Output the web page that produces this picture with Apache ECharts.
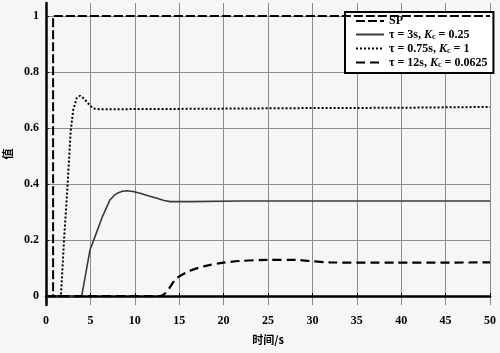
<!DOCTYPE html>
<html>
<head>
<meta charset="utf-8">
<script src="https://cdn.jsdelivr.net/npm/echarts@6/dist/echarts.min.js"></script>
<style>
    html, body { margin: 0; padding: 0; background: #f6f6f6; }
    #main { width: 500px; height: 353px; }
</style>
</head>
<body>
<div id="main"></div>
<script>
    // 数据
    var yTicks = [0, 0.2, 0.4, 0.6, 0.8, 1];
    var spData = [[0, 0], [0.8, 0], [0.8, 1], [50, 1]];
    var tau075Data = [[0, 0], [1.6, 0], [1.7, 0.01], [2.03, 0.2], [2.4, 0.38], [2.78, 0.59], [3.07, 0.664],
        [3.45, 0.706], [3.83, 0.715], [4.15, 0.708], [4.58, 0.694], [5, 0.679], [5.33, 0.67], [5.9, 0.667], [8, 0.667],
        [15, 0.668], [30, 0.671], [40, 0.672], [50, 0.675]];
    var tau3Data = [[0, 0], [4.02, 0], [4.95, 0.164], [5.52, 0.212], [6.27, 0.277], [7.2, 0.343],
        [7.7, 0.36], [8.15, 0.369], [8.6, 0.374], [9.08, 0.376], [9.8, 0.373], [10.6, 0.367],
        [11.5, 0.358], [12.5, 0.349], [13.3, 0.341], [14, 0.337], [16.2, 0.337],
        [21.8, 0.339], [50, 0.339]];
    var tau12Data = [[0, 0], [12.84, 0], [14.7, 0.063], [16.2, 0.09], [17.9, 0.107], [20, 0.119],
        [21.8, 0.125], [24.9, 0.129], [28.2, 0.129], [29.7, 0.125], [32, 0.12], [39.5, 0.119], [50, 0.12]];

    var legendRich = {
        '0': '{n|SP}',
        '1': '{n|\u03c4 = 3s, }{k|K}{s|c}{n| = 0.25}',
        '2': '{n|\u03c4 = 0.75s, }{k|K}{s|c}{n| = 1}',
        '3': '{n|\u03c4 = 12s, }{k|K}{s|c}{n| = 0.0625}'
    };
    var seriesNames = ['SP', '\u03c4=3s, Kc=0.25', '\u03c4=0.75s, Kc=1', '\u03c4=12s, Kc=0.0625'];

    var chart = echarts.init(document.getElementById('main'));
    var font = '"Liberation Serif", "Times New Roman", serif';
    var option = {
        backgroundColor: '#f6f6f6',
        animation: false,
        textStyle: {fontFamily: font},
        grid: {
            left: 46,
            right: 10,
            top: 3,
            bottom: 48,
            outerBoundsMode: 'none',
            containLabel: false
        },
        legend: {
            orient: 'vertical',
            left: 345,
            top: 12,
            width: 140,
            padding: [3, 6, 4, 10],
            itemGap: 1.5,
            itemWidth: 28,
            itemHeight: 12,
            backgroundColor: '#fff',
            borderColor: '#000',
            borderWidth: 2,
            borderRadius: 0,
            itemStyle: {color: 'transparent', borderColor: 'transparent', borderWidth: 0},
            data: seriesNames,
            formatter: function (name) {
                return legendRich[seriesNames.indexOf(name)];
            },
            textStyle: {
                rich: {
                    n: {fontFamily: font, fontWeight: 'bold', fontSize: 12, color: '#000'},
                    k: {fontFamily: font, fontWeight: 'bold', fontStyle: 'italic', fontSize: 12, color: '#000'},
                    s: {fontFamily: font, fontWeight: 'bold', fontSize: 8, color: '#000', verticalAlign: 'bottom', padding: [5, 0, 0, 0]}
                }
            }
        },
        xAxis: {
            type: 'value',
            min: 0,
            max: 50,
            interval: 5,
            name: '时间/s',
            nameLocation: 'middle',
            nameGap: 29,
            nameTextStyle: {fontFamily: '"Noto Sans CJK SC"', fontWeight: 'bold', fontSize: 11, color: '#000'},
            axisLine: {lineStyle: {color: '#000', width: 2.5}},
            axisTick: {inside: true, length: 3, lineStyle: {color: '#000'}},
            axisLabel: {fontFamily: font, fontWeight: 'bold', fontSize: 12, color: '#000', margin: 10},
            splitLine: {show: true, lineStyle: {color: '#8c8c8c', width: 1}}
        },
        yAxis: {
            type: 'value',
            min: -0.032,
            max: 1.046,
            name: '值',
            nameLocation: 'middle',
            nameRotate: 90,
            nameGap: 28,
            nameTextStyle: {fontFamily: '"Noto Sans CJK SC"', fontWeight: 'bold', fontSize: 11, color: '#000'},
            axisLine: {lineStyle: {color: '#000', width: 2.5}},
            axisTick: {inside: true, length: 3, customValues: yTicks, lineStyle: {color: '#000'}},
            axisLabel: {
                customValues: yTicks,
                fontFamily: font, fontWeight: 'bold', fontSize: 12, color: '#000', margin: 7,
                formatter: function (v) { return String(v); }
            },
            splitLine: {show: true, lineStyle: {color: '#8c8c8c', width: 1}}
        },
        series: [
            {
                name: seriesNames[0],
                type: 'line',
                symbol: 'none',
                data: spData,
                lineStyle: {color: '#000', width: 2, type: [9, 3]},
                z: 5
            },
            {
                name: seriesNames[1],
                type: 'line',
                symbol: 'none',
                data: tau3Data,
                lineStyle: {color: '#3a3a3a', width: 1.6, type: 'solid'}
            },
            {
                name: seriesNames[2],
                type: 'line',
                symbol: 'none',
                data: tau075Data,
                lineStyle: {color: '#000', width: 2, type: [2, 2]}
            },
            {
                name: seriesNames[3],
                type: 'line',
                symbol: 'none',
                data: tau12Data,
                smooth: 0.3,
                lineStyle: {color: '#000', width: 2.2, type: [9, 5]}
            }
        ]
    };
    chart.setOption(option);
</script>
</body>
</html>
